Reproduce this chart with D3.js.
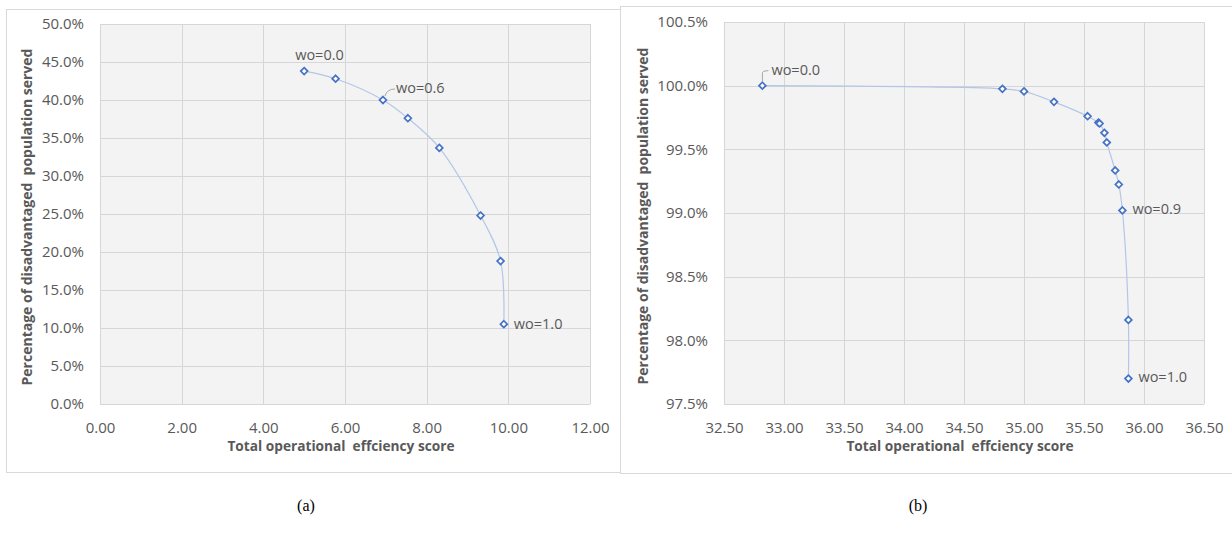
<!DOCTYPE html>
<html>
<head>
<meta charset="utf-8">
<script src="https://cdn.jsdelivr.net/npm/d3@7"></script>
<style>
  body { margin: 0; background: #fff; }
  svg { display: block; }
</style>
</head>
<body>
<svg id="chart" width="1232" height="536"></svg>
<script>
// chart (a) values
const xA = [5.00, 5.77, 6.93, 7.54, 8.31, 9.32, 9.81, 9.89];
const yA = [0.438, 0.428, 0.400, 0.376, 0.337, 0.248, 0.188, 0.105];
const xTicksA = [0, 2, 4, 6, 8, 10, 12];
const yTicksA = [0, 0.05, 0.10, 0.15, 0.20, 0.25, 0.30, 0.35, 0.40, 0.45, 0.50];
const labelsA = [{i: 0, text: "wo=0.0"}, {i: 2, text: "wo=0.6"}, {i: 7, text: "wo=1.0"}];

// chart (b) values
const xB = [32.82, 34.82, 35.00, 35.25, 35.53, 35.62, 35.63, 35.67, 35.69, 35.76, 35.79, 35.82, 35.87, 35.87];
const yB = [1.0000, 0.99975, 0.99955, 0.99873, 0.99760, 0.99710, 0.99703, 0.99630, 0.99554, 0.99334, 0.99224, 0.99020, 0.98160, 0.97700];
const xTicksB = [32.5, 33, 33.5, 34, 34.5, 35, 35.5, 36, 36.5];
const yTicksB = [0.975, 0.98, 0.985, 0.99, 0.995, 1.0, 1.005];
const labelsB = [{i: 0, text: "wo=0.0"}, {i: 11, text: "wo=0.9"}, {i: 13, text: "wo=1.0"}];

const yTitle = "Percentage of disadvantaged  population served";
const xTitle = "Total operational  effciency score";

const svg = d3.select("#chart");
const font = "'Open Sans', 'Noto Sans', sans-serif";
const textCol = "#595959";

function drawChart(cfg) {
  const g = svg.append("g");

  // outer chart box
  g.append("rect")
    .attr("x", cfg.box[0] + 0.5).attr("y", cfg.box[1] + 0.5)
    .attr("width", cfg.box[2]).attr("height", cfg.box[3])
    .attr("fill", "#fff").attr("stroke", "#d9d9d9");

  const x = d3.scaleLinear().domain(cfg.xDomain).range([cfg.left, cfg.right]);
  const y = d3.scaleLinear().domain(cfg.yDomain).range([cfg.bottom, cfg.top]);

  // plot background
  g.append("rect")
    .attr("x", cfg.left).attr("y", cfg.top)
    .attr("width", cfg.right - cfg.left).attr("height", cfg.bottom - cfg.top)
    .attr("fill", "#f3f3f3");

  // grid lines
  g.append("g").selectAll("line.v")
    .data(cfg.xTicks).enter().append("line")
    .attr("x1", d => Math.round(x(d)) + 0.5).attr("x2", d => Math.round(x(d)) + 0.5)
    .attr("y1", cfg.top).attr("y2", cfg.bottom)
    .attr("stroke", "#d6d6d6").attr("stroke-width", 1);
  g.append("g").selectAll("line.h")
    .data(cfg.yTicks).enter().append("line")
    .attr("x1", cfg.left).attr("x2", cfg.right)
    .attr("y1", d => Math.round(y(d)) + 0.5).attr("y2", d => Math.round(y(d)) + 0.5)
    .attr("stroke", "#d6d6d6").attr("stroke-width", 1);

  // axes (tick labels only, like Excel)
  const xAxis = g.append("g")
    .attr("transform", "translate(0," + (cfg.bottom + 12) + ")")
    .call(d3.axisBottom(x).tickValues(cfg.xTicks).tickFormat(d3.format(".2f")).tickSize(0).tickPadding(6));
  const yAxis = g.append("g")
    .attr("transform", "translate(" + (cfg.left - 14) + ",0)")
    .call(d3.axisLeft(y).tickValues(cfg.yTicks).tickFormat(d3.format(".1%")).tickSize(0).tickPadding(2));
  [xAxis, yAxis].forEach(a => {
    a.select(".domain").remove();
    a.selectAll("text").attr("fill", textCol).style("font-family", font).style("font-size", "15px");
  });

  // axis titles
  g.append("text")
    .attr("x", (cfg.left + cfg.right) / 2 - 4).attr("y", cfg.bottom + 47)
    .attr("text-anchor", "middle")
    .attr("fill", textCol).style("font-family", font).style("font-size", "13.7px").style("font-weight", "bold")
    .style("white-space", "pre")
    .text(xTitle);
  g.append("text")
    .attr("transform", "translate(" + cfg.yTitleX + "," + ((cfg.top + cfg.bottom) / 2 + 3) + ") rotate(-90)")
    .attr("text-anchor", "middle")
    .attr("fill", textCol).style("font-family", font).style("font-size", "14px").style("font-weight", "bold")
    .style("white-space", "pre")
    .text(cfg.yTitle);

  const pts = cfg.xs.map((d, i) => [d, cfg.ys[i]]);

  // smoothed line
  const line = d3.line().x(d => x(d[0])).y(d => y(d[1])).curve(d3.curveCatmullRom.alpha(0.5));
  g.append("path")
    .attr("d", line(pts))
    .attr("fill", "none").attr("stroke", "#b4c6e7").attr("stroke-width", 1.2);

  // diamond markers
  const sym = d3.symbol().type(d3.symbolDiamond2).size(30);
  g.append("g").selectAll("path")
    .data(pts).enter().append("path")
    .attr("d", sym)
    .attr("transform", d => "translate(" + x(d[0]) + "," + y(d[1]) + ")")
    .attr("fill", "#fff").attr("stroke", "#4472c4").attr("stroke-width", 1.7);

  // data labels with optional leader lines
  cfg.labels.forEach(l => {
    const px = x(pts[l.i][0]), py = y(pts[l.i][1]);
    const o = cfg.labelOffsets[l.text];
    if (o.leader) {
      g.append("path")
        .attr("d", o.leader(px, py))
        .attr("fill", "none").attr("stroke", "#a6a6a6").attr("stroke-width", 1);
    }
    g.append("text")
      .attr("x", px + o.dx).attr("y", py + o.dy)
      .attr("dominant-baseline", "middle")
      .attr("fill", textCol).style("font-family", font).style("font-size", "14.5px")
      .text(l.text);
  });
}

drawChart({
  box: [6, 9, 614, 463],
  left: 100, right: 590, top: 24, bottom: 404,
  xDomain: [0, 12], yDomain: [0, 0.5],
  xTicks: xTicksA, yTicks: yTicksA,
  xs: xA, ys: yA,
  yTitle: yTitle, yTitleX: 32,
  labels: labelsA,
  labelOffsets: {
    "wo=0.0": {dx: -9, dy: -15},
    "wo=0.6": {dx: 13, dy: -11, leader: (px, py) => `M${px + 2},${py - 4} Q${px + 4},${py - 11} ${px + 12},${py - 11}`},
    "wo=1.0": {dx: 10, dy: 1}
  }
});

drawChart({
  box: [620, 6, 620, 467],
  left: 724, right: 1204, top: 22, bottom: 404,
  xDomain: [32.5, 36.5], yDomain: [0.975, 1.005],
  xTicks: xTicksB, yTicks: yTicksB,
  xs: xB, ys: yB,
  yTitle: yTitle, yTitleX: 648,
  labels: labelsB,
  labelOffsets: {
    "wo=0.0": {dx: 9, dy: -15, leader: (px, py) => `M${px},${py - 4} L${px},${py - 13} Q${px},${py - 15} ${px + 6},${py - 15}`},
    "wo=0.9": {dx: 10, dy: 0},
    "wo=1.0": {dx: 10, dy: 0}
  }
});

// captions
svg.append("text").attr("x", 306).attr("y", 511).attr("text-anchor", "middle")
  .style("font-family", "'Liberation Serif', 'Times New Roman', serif").style("font-size", "16px").attr("fill", "#000")
  .text("(a)");
svg.append("text").attr("x", 918).attr("y", 511).attr("text-anchor", "middle")
  .style("font-family", "'Liberation Serif', 'Times New Roman', serif").style("font-size", "16px").attr("fill", "#000")
  .text("(b)");
</script>
</body>
</html>
